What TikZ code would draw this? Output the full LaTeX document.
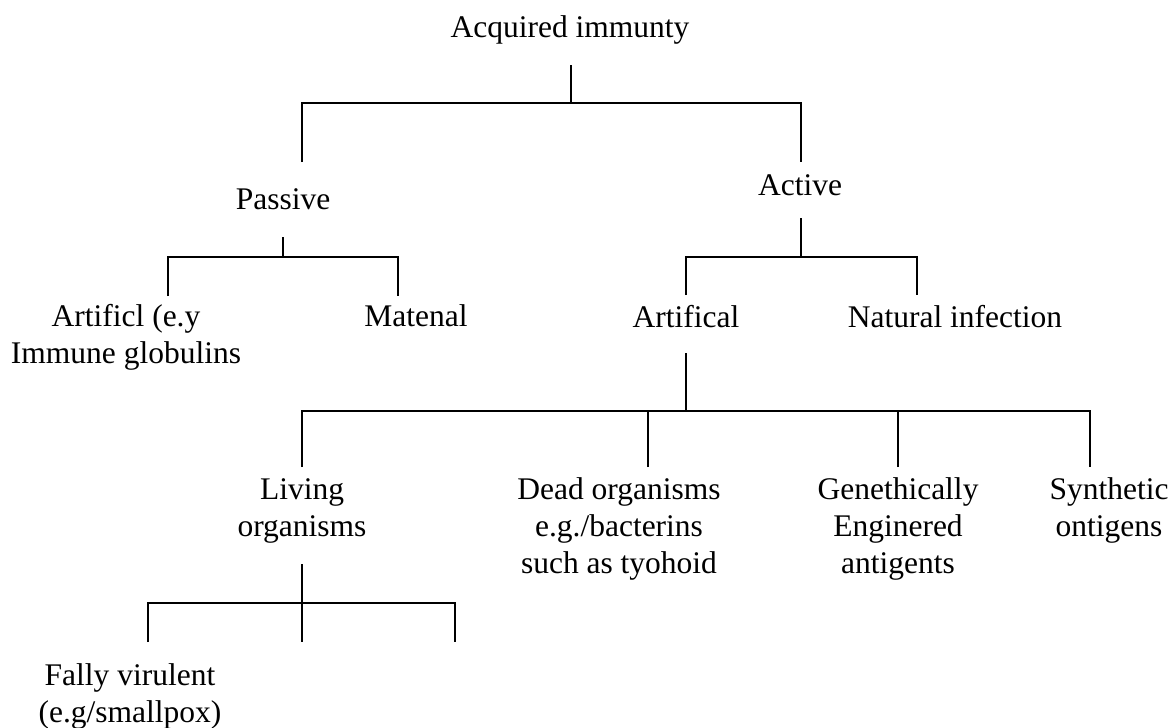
\documentclass[tikz,border=0pt]{standalone}
\usepackage{fontspec}
\setmainfont{Liberation Serif}
\begin{document}
\begin{tikzpicture}[x=1pt, y=-1pt, line width=2pt,
    txt/.style={anchor=base, inner sep=0pt, align=center, font=\fontsize{31.5}{37}\selectfont}]
\useasboundingbox (0,0) rectangle (1171,728);

% acquired immunity
\node[txt] (acq) at (570,37.5) {Acquired immunty};
\coordinate (acqstem) at (571,65);
\coordinate (acqbar) at (571,103);

% passive and active
\node[txt] (pas) at (283,209) {Passive};
\node[txt] (act) at (800,195) {Active};
\coordinate (pastop) at (302,162);
\coordinate (acttop) at (801,162);
\draw (acqstem) -- (acqbar);
\draw (pastop) |- (acttop |- acqbar) -- (acttop);

% children of passive (base is the last line)
\node[txt] (artfcl) at (126,363) {Artificl (e.y\\Immune globulins};
\node[txt] (mat) at (416,326) {Matenal};
\coordinate (passtem) at (283,237);
\coordinate (pasbar) at (283,257);
\coordinate (artfcltop) at (168,296);
\coordinate (mattop) at (398,296);
\draw (passtem) -- (pasbar);
\draw (artfcltop) |- (mattop |- pasbar) -- (mattop);

% children of active
\node[txt] (artf) at (686,327) {Artifical};
\node[txt] (nat) at (955,327) {Natural infection};
\coordinate (actstem) at (801,218);
\coordinate (actbar) at (801,257);
\coordinate (artftop) at (686,295);
\coordinate (nattop) at (917,295);
\draw (actstem) -- (actbar);
\draw (artftop) |- (nattop |- actbar) -- (nattop);

% children of artifical
\node[txt] (liv) at (302,536) {Living\\organisms};
\node[txt] (dead) at (619,573) {Dead organisms\\e.g./bacterins\\such as tyohoid};
\node[txt] (gen) at (898,573) {Genethically\\Enginered\\antigents};
\node[txt] (syn) at (1109,536) {Synthetic\\ontigens};
\coordinate (artfstem) at (686,353);
\coordinate (artfbar) at (686,411);
\coordinate (livtop) at (302,467);
\coordinate (deadtop) at (648,467);
\coordinate (gentop) at (898,467);
\coordinate (syntop) at (1090,467);
\draw (artfstem) -- (artfbar);
\draw (livtop) |- (syntop |- artfbar) -- (syntop);
\foreach \c in {deadtop,gentop}
  \draw (\c) -- (\c |- artfbar);

% children of living organisms
\node[txt] (fal) at (130,722) {Fally virulent\\(e.g/smallpox)};
\coordinate (livstem) at (302,564);
\coordinate (livbar) at (302,603);
\coordinate (faltop) at (148,642);
\coordinate (midtop) at (302,642);
\coordinate (rgttop) at (455,642);
\draw (livstem) -- (midtop);
\draw (faltop) |- (rgttop |- livbar) -- (rgttop);

\end{tikzpicture}
\end{document}
